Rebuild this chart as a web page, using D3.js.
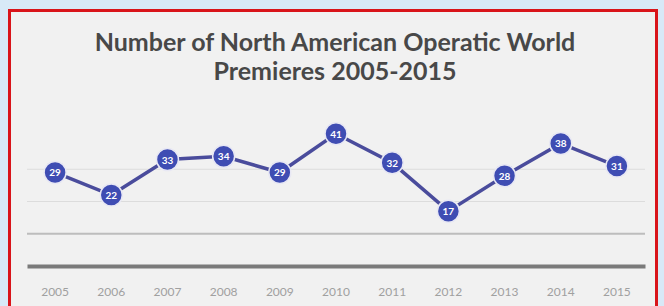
<!DOCTYPE html>
<html><head><meta charset="utf-8">
<script src="https://cdn.jsdelivr.net/npm/d3@7"></script>
<style>html,body{margin:0;padding:0;background:#d8e9f7;}svg{display:block;}</style>
</head><body>
<script>
const years = ["2005","2006","2007","2008","2009","2010","2011","2012","2013","2014","2015"];
const premieres = [29,22,33,34,29,41,32,17,28,38,31];
const yTicks = [0,10,20,30,40];
const titleLines = ["Number of North American Operatic World","Premieres 2005-2015"];

const W=664,H=306;
const svg=d3.select("body").append("svg").attr("width",W).attr("height",H);
svg.append("rect").attr("width",W).attr("height",H).attr("fill","#d8e9f7");
svg.append("rect").attr("x",9.5).attr("y",10.5).attr("width",647).attr("height",310)
  .attr("fill","#f1f1f1").attr("stroke","#d9141a").attr("stroke-width",3);

const x=d3.scaleBand().domain(years).range([27,645]);
const y=d3.scaleLinear().domain([0,40]).range([266,137]);

svg.selectAll("line.grid").data(yTicks.filter(d=>d>0)).join("line").attr("class","grid")
  .attr("x1",27).attr("x2",645).attr("y1",d=>y(d)).attr("y2",d=>y(d))
  .attr("stroke",d=>d===10?"#bdbdbd":"#dcdcdc").attr("stroke-width",d=>d===10?2:1)
  .attr("opacity",d=>d===40?0:1);

const xAxis=svg.append("g").attr("transform","translate(0,266)").call(d3.axisBottom(x).tickSize(0).tickPadding(21));
xAxis.select(".domain").attr("stroke","#7a7a7a").attr("stroke-width",4);
xAxis.selectAll("text").attr("fill","#a0a0a0").attr("font-family","Lato, sans-serif").attr("font-size",12);

svg.selectAll("text.title").data(titleLines).join("text").attr("class","title")
  .attr("x",335).attr("y",(d,i)=>51+i*29).attr("text-anchor","middle")
  .attr("font-family","Lato, sans-serif").attr("font-weight","bold").attr("font-size",25)
  .attr("fill","#484848").text(d=>d);

const cx=(d,i)=>x(years[i])+x.bandwidth()/2;
const line=d3.line().x((d,i)=>cx(d,i)).y(d=>y(d));
svg.append("path").datum(premieres).attr("d",line).attr("fill","none")
  .attr("stroke","#4a4c9c").attr("stroke-width",3.5);

svg.selectAll("circle.pt").data(premieres).join("circle").attr("class","pt")
  .attr("cx",cx).attr("cy",d=>y(d)).attr("r",11)
  .attr("fill","#3f4db3").attr("stroke","#e8e8f4").attr("stroke-width",1.5);
svg.selectAll("text.lbl").data(premieres).join("text").attr("class","lbl")
  .attr("x",cx).attr("y",d=>y(d)+4).attr("text-anchor","middle")
  .attr("font-family","Lato, sans-serif").attr("font-weight","bold").attr("font-size",10)
  .attr("fill","#ffffff").text(d=>d);
</script>
</body></html>
